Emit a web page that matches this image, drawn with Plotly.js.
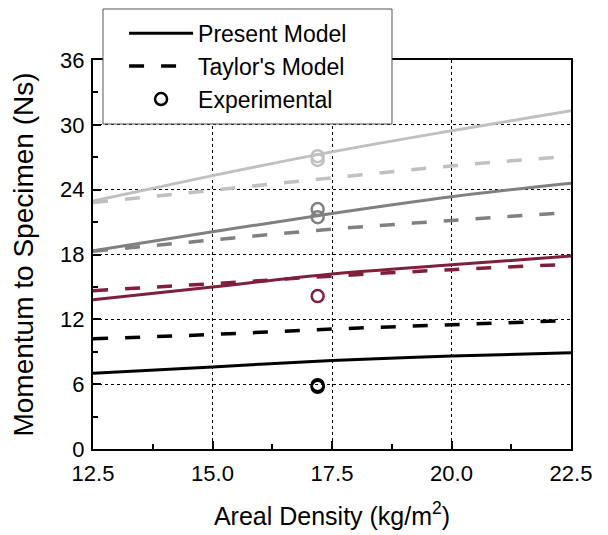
<!DOCTYPE html>
<html>
<head>
<meta charset="utf-8">
<script src="https://cdn.plot.ly/plotly-3.0.1.min.js"></script>
<style>html,body{margin:0;padding:0;background:#fff;}#chart{width:608px;height:535px;}</style>
</head>
<body>
<div id="chart"></div>
<script>
// Areal density (kg/m^2)
const density = [12.5, 15.0, 17.5, 20.0, 22.5];

// Present model curves (Ns)
const presentBlack  = [7.0, 7.6, 8.2, 8.6, 8.9];
const presentMaroon = [13.8, 15.0, 16.2, 17.05, 17.85];
const presentGray   = [18.35, 20.1, 21.8, 23.35, 24.6];
const presentLight  = [22.95, 25.3, 27.5, 29.45, 31.3];

// Taylor's model curves (Ns)
const taylorBlack  = [10.2, 10.6, 11.1, 11.5, 11.9];
const taylorMaroon = [14.65, 15.3, 16.0, 16.6, 17.1];
const taylorGray   = [18.3, 19.35, 20.35, 21.15, 21.9];
const taylorLight  = [22.8, 23.95, 25.1, 26.2, 27.1];

// Experimental points
const expDensity = 17.2;
const expBlack  = [5.9, 5.75];
const expMaroon = [14.15];
const expGray   = [22.2, 21.45];
const expLight  = [27.1, 26.75];

const yTicks = [0, 6, 12, 18, 24, 30, 36];
const xTicks = [12.5, 15.0, 17.5, 20.0, 22.5];
const xTickText = ['12.5', '15.0', '17.5', '20.0', '22.5'];

const C = {black: '#000000', maroon: '#7f1f3c', gray: '#808080', light: '#c0c0c0'};
const FONT = 'Liberation Sans, Arial, sans-serif';

function line(y, color, dashed, name, show) {
  return {
    x: density, y: y, type: 'scatter', mode: 'lines',
    line: {color: color, width: dashed ? 3.5 : 3, dash: dashed ? '15px,17px' : 'solid', shape: 'spline'},
    name: name, showlegend: !!show, hoverinfo: 'skip'
  };
}
function pts(y, color, name, show) {
  return {
    x: y.map(() => expDensity), y: y, type: 'scatter', mode: 'markers',
    marker: {symbol: 'circle-open', size: 12, color: color, line: {color: color, width: 2.5}},
    name: name, showlegend: !!show, hoverinfo: 'skip'
  };
}

const data = [
  line(presentBlack, C.black, false, 'Present Model', true),
  line(taylorBlack, C.black, true, "Taylor's Model", true),
  pts(expBlack, C.black, 'Experimental', true),
  line(presentMaroon, C.maroon, false, 'Present Model'),
  line(taylorMaroon, C.maroon, true, "Taylor's Model"),
  line(presentGray, C.gray, false, 'Present Model'),
  line(taylorGray, C.gray, true, "Taylor's Model"),
  line(presentLight, C.light, false, 'Present Model'),
  line(taylorLight, C.light, true, "Taylor's Model"),
  pts(expMaroon, C.maroon, 'Experimental'),
  pts(expGray, C.gray, 'Experimental'),
  pts(expLight, C.light, 'Experimental')
];

const axisCommon = {
  showline: true, linecolor: '#000', linewidth: 2, mirror: true,
  ticks: 'inside', ticklen: 8, tickwidth: 2, tickcolor: '#000',
  showgrid: true, gridcolor: '#000', gridwidth: 1, griddash: '3px,3px',
  zeroline: false, automargin: false,
  tickfont: {family: FONT, size: 22, color: '#000'}
};

const layout = {
  width: 608, height: 535,
  margin: {l: 93, r: 37, t: 60, b: 86, autoexpand: false},
  paper_bgcolor: '#fff', plot_bgcolor: '#fff',
  font: {family: FONT, color: '#000'},
  xaxis: Object.assign({}, axisCommon, {
    range: [12.5, 22.5], tickmode: 'array', tickvals: xTicks, ticktext: xTickText,
    ticklabelstandoff: 4,
    minor: {tickvals: [13.75, 16.25, 18.75, 21.25], ticks: 'inside', ticklen: 5, tickwidth: 2, tickcolor: '#000', showgrid: false},
    title: {text: 'Areal Density (kg/m<sup>2</sup>)', font: {family: FONT, size: 25, color: '#000'}, standoff: 22}
  }),
  yaxis: Object.assign({}, axisCommon, {
    range: [0, 36], tickmode: 'array', tickvals: yTicks,
    ticklabelstandoff: 2,
    minor: {tickvals: [3, 9, 15, 21, 27, 33], ticks: 'inside', ticklen: 5, tickwidth: 2, tickcolor: '#000', showgrid: false},
    title: {text: 'Momentum to Specimen (Ns)', font: {family: FONT, size: 28, color: '#000'}, standoff: 18}
  }),
  shapes: [{
    type: 'rect', xref: 'paper', yref: 'paper', layer: 'above',
    x0: 0.0209, x1: 0.6255, y0: 0.8355, y1: 1.1311,
    fillcolor: '#fff', line: {color: '#555', width: 1}
  }],
  legend: {
    x: 0.065, y: 1.124, xanchor: 'left', yanchor: 'top',
    bgcolor: 'rgba(0,0,0,0)', borderwidth: 0,
    font: {family: FONT, size: 23, color: '#000'},
    itemwidth: 64, traceorder: 'normal'
  },
  showlegend: true
};

Plotly.newPlot('chart', data, layout, {displayModeBar: false, staticPlot: true});
</script>
</body>
</html>
